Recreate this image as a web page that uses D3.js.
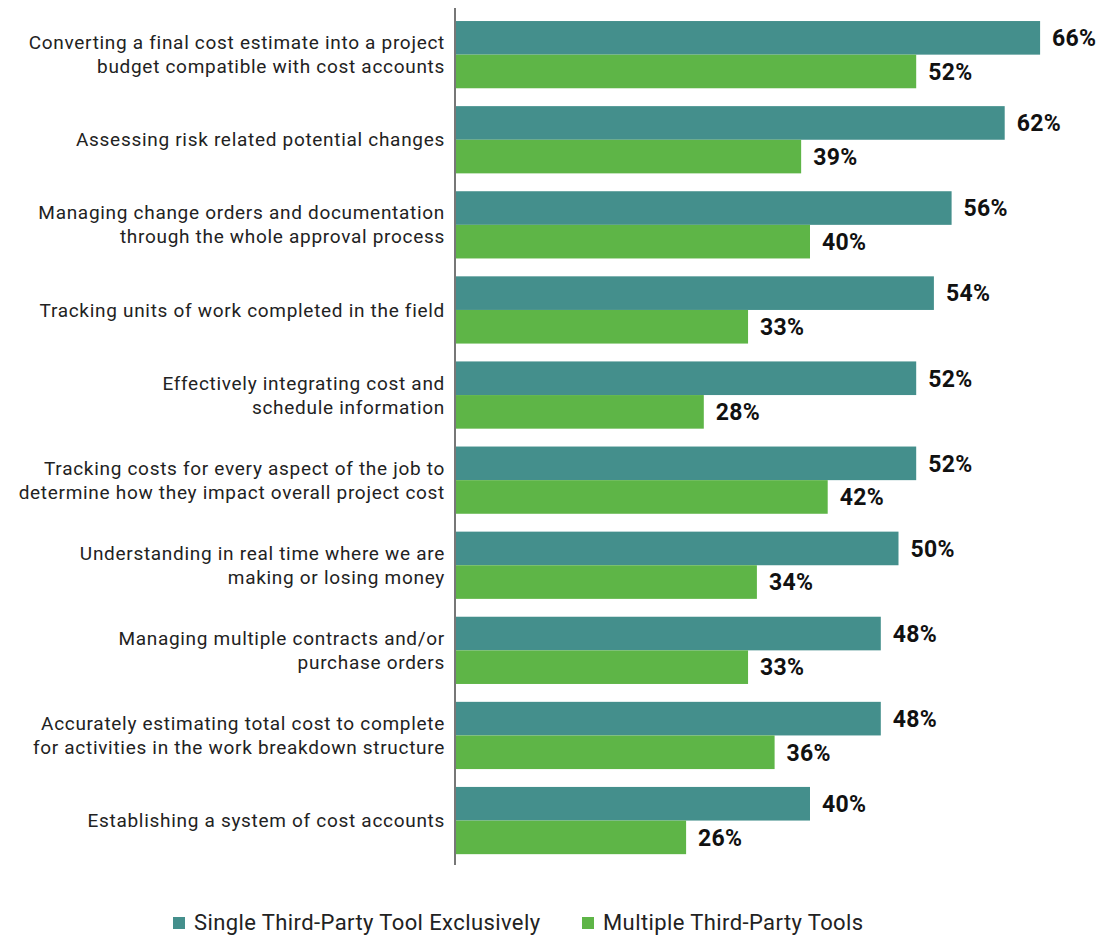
<!DOCTYPE html>
<html>
<head>
<meta charset="utf-8">
<script src="https://cdn.jsdelivr.net/npm/d3@7"></script>
<style>
  html, body { margin: 0; padding: 0; background: #fff; }
  svg { display: block; }
</style>
</head>
<body>
<svg id="chart" width="1112" height="936"></svg>
<script>
// Survey items (each label split into its display lines)
const categories = [
  ["Converting a final cost estimate into a project", "budget compatible with cost accounts"],
  ["Assessing risk related potential changes"],
  ["Managing change orders and documentation", "through the whole approval process"],
  ["Tracking units of work completed in the field"],
  ["Effectively integrating cost and", "schedule information"],
  ["Tracking costs for every aspect of the job to", "determine how they impact overall project cost"],
  ["Understanding in real time where we are", "making or losing money"],
  ["Managing multiple contracts and/or", "purchase orders"],
  ["Accurately estimating total cost to complete", "for activities in the work breakdown structure"],
  ["Establishing a system of cost accounts"]
];
const seriesNames = ["Single Third-Party Tool Exclusively", "Multiple Third-Party Tools"];
const singleTool = [66, 62, 56, 54, 52, 52, 50, 48, 48, 40];
const multipleTools = [52, 39, 40, 33, 28, 42, 34, 33, 36, 26];
const colors = ["#448f8c", "#5eb547"];

const svg = d3.select("#chart");
const axisX = 455;
const plotLeft = 456;

const x = d3.scaleLinear().domain([0, 70]).range([plotLeft, plotLeft + 70 * 8.85]);
const y = d3.scaleBand()
  .domain(d3.range(categories.length))
  .range([12.1, 863.1])
  .paddingInner(0.21)
  .paddingOuter(0.105);
const sub = d3.scaleBand().domain([0, 1]).range([0, y.bandwidth()]);

const rows = categories.map((c, i) => ({ i, lines: c, vals: [singleTool[i], multipleTools[i]] }));

const g = svg.append("g");

// bars
const groups = g.selectAll("g.row").data(rows).join("g")
  .attr("class", "row")
  .attr("transform", d => `translate(0,${y(d.i)})`);

groups.selectAll("rect").data(d => d.vals.map((v, s) => ({ v, s }))).join("rect")
  .attr("x", plotLeft)
  .attr("y", d => sub(d.s))
  .attr("width", d => x(d.v) - plotLeft)
  .attr("height", sub.bandwidth())
  .attr("fill", d => colors[d.s]);

// value labels
groups.selectAll("text.val").data(d => d.vals.map((v, s) => ({ v, s }))).join("text")
  .attr("class", "val")
  .attr("x", d => x(d.v) + 12)
  .attr("y", d => sub(d.s) + sub.bandwidth() / 2)
  .attr("dy", "0.36em")
  .attr("font-family", "Roboto, 'Noto Sans', sans-serif")
  .attr("font-weight", 700)
  .attr("font-size", 23)
  .attr("letter-spacing", 0.3)
  .attr("fill", "#111")
  .text(d => d.v + "%");

// category labels
const lineH = 24;
groups.append("text")
  .attr("x", 445)
  .attr("text-anchor", "end")
  .attr("font-family", "Roboto, 'Noto Sans', sans-serif")
  .attr("font-size", 19)
  .attr("letter-spacing", 0.7)
  .attr("fill", "#222")
  .each(function(d) {
    const n = d.lines.length;
    const c = y.bandwidth() / 2;
    d3.select(this).selectAll("tspan").data(d.lines).join("tspan")
      .attr("x", 445)
      .attr("y", (l, k) => c + (k - (n - 1) / 2) * lineH)
      .attr("dy", "0.35em")
      .text(l => l);
  });

// vertical axis line
svg.append("line")
  .attr("x1", axisX).attr("x2", axisX)
  .attr("y1", 8).attr("y2", 865)
  .attr("stroke", "#777")
  .attr("stroke-width", 2);

// legend
const legend = svg.append("g").attr("transform", "translate(0,922)");
const legendX = [173, 582];
seriesNames.forEach((name, s) => {
  legend.append("rect")
    .attr("x", legendX[s]).attr("y", -5)
    .attr("width", 12).attr("height", 12)
    .attr("fill", colors[s]);
  legend.append("text")
    .attr("x", legendX[s] + 21)
    .attr("y", 0)
    .attr("dy", "0.36em")
    .attr("font-family", "Roboto, 'Noto Sans', sans-serif")
    .attr("font-size", 22)
    .attr("letter-spacing", 0.4)
    .attr("fill", "#222")
    .text(name);
});
</script>
</body>
</html>
